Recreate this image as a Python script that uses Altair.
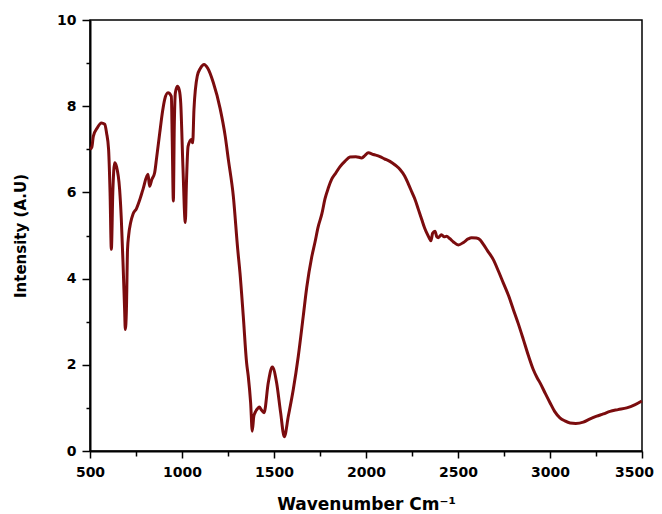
import altair as alt
import pandas as pd

wavenumber = [
    500, 510, 518, 540, 562, 580, 590, 601, 609, 616, 624, 634, 644, 661, 670, 680, 688, 692, 698, 704, 710, 721, 734, 752, 772, 788, 815, 824, 836, 851, 862, 879, 895, 906, 924, 942, 947, 953, 958, 964, 975, 985, 993, 1005, 1018, 1024, 1033, 1051, 1058, 1065, 1083, 1100, 1120, 1140, 1170, 1207, 1235, 1252, 1279, 1303, 1315, 1333, 1351, 1360, 1373, 1382, 1390, 1397, 1410, 1420, 1432, 1446, 1469, 1491, 1514, 1536, 1556, 1578, 1605, 1632, 1659, 1678, 1705, 1723, 1740, 1760, 1777, 1795, 1813, 1836, 1859, 1885, 1913, 1945, 1977, 1995, 2012, 2040, 2076, 2100, 2130, 2160, 2185, 2210, 2230, 2250, 2266, 2285, 2303, 2318, 2330, 2343, 2353, 2362, 2375, 2385, 2393, 2410, 2425, 2438, 2455, 2475, 2502, 2530, 2555, 2574, 2600, 2620, 2637, 2660, 2692, 2720, 2746, 2775, 2801, 2828, 2855, 2882, 2909, 2930, 2946, 2975, 3000, 3025, 3054, 3080, 3109, 3140, 3181, 3215, 3254, 3290, 3326, 3370, 3417, 3460, 3499,
]
intensity = [
    7.0, 7.05, 7.3, 7.5, 7.61, 7.58, 7.38, 7.0, 6.0, 4.68, 6.0, 6.69, 6.6, 6.07, 5.4, 4.3, 3.3, 2.82, 3.3, 4.68, 5.0, 5.3, 5.5, 5.62, 5.85, 6.07, 6.42, 6.14, 6.3, 6.45, 6.8, 7.38, 7.9, 8.16, 8.31, 8.23, 7.2, 5.8, 7.5, 8.31, 8.46, 8.38, 8.08, 6.6, 5.3, 6.2, 7.07, 7.23, 7.15, 7.92, 8.7, 8.88, 8.97, 8.88, 8.55, 7.95, 7.3, 6.76, 5.91, 4.67, 4.14, 3.13, 2.05, 1.74, 1.12, 0.46, 0.8, 0.89, 0.98, 1.02, 0.95, 0.89, 1.59, 1.95, 1.59, 0.89, 0.33, 0.81, 1.43, 2.2, 3.13, 3.8, 4.5, 4.85, 5.2, 5.5, 5.85, 6.1, 6.3, 6.45, 6.6, 6.72, 6.82, 6.83, 6.8, 6.86, 6.92, 6.88, 6.83, 6.78, 6.72, 6.63, 6.53, 6.38, 6.2, 6.0, 5.84, 5.6, 5.37, 5.18, 5.06, 4.95, 4.88, 5.05, 5.1, 4.97, 4.95, 5.02, 4.97, 4.98, 4.93, 4.85, 4.78, 4.84, 4.92, 4.95, 4.94, 4.9, 4.8, 4.65, 4.44, 4.17, 3.9, 3.6, 3.28, 2.95, 2.59, 2.22, 1.89, 1.7, 1.58, 1.33, 1.12, 0.92, 0.77, 0.7, 0.65, 0.64, 0.67, 0.74, 0.81, 0.86, 0.92, 0.96, 1.0, 1.07, 1.16,
]

x_ticks = list(range(500, 3501, 250))
y_ticks = list(range(0, 11))

df = pd.DataFrame({"w": wavenumber, "i": intensity})

FONT = "DejaVu Sans"

chart = (
    alt.Chart(df)
    .mark_line(color="#7b0c0e", strokeWidth=3, interpolate="monotone")
    .encode(
        x=alt.X(
            "w:Q",
            scale=alt.Scale(domain=[500, 3500], nice=False, zero=False),
            axis=alt.Axis(
                title="Wavenumber Cm\u207b\u00b9",
                values=x_ticks,
                format="d",
                labelExpr="datum.value % 500 === 0 ? datum.label : ''",
                labelFlush=False,
                labelOverlap=False,
                labelOffset={"condition": {"test": "datum.value === 3500", "value": -8}, "value": 0},
                tickSize={"condition": {"test": "datum.value % 500 === 0", "value": 7}, "value": 5},
                grid=False,
                domainColor="black",
                domainWidth=2,
                tickColor="black",
                tickWidth=1.5,
                labelFont=FONT,
                labelFontWeight="bold",
                labelFontSize=14,
                labelColor="black",
                labelPadding=7,
                titleFont=FONT,
                titleFontWeight="bold",
                titleFontSize=17,
                titleColor="black",
                titlePadding=17,
            ),
        ),
        y=alt.Y(
            "i:Q",
            scale=alt.Scale(domain=[0, 10], nice=False),
            axis=alt.Axis(
                title="Intensity (A.U)",
                values=y_ticks,
                format="d",
                labelExpr="datum.value % 2 === 0 ? datum.label : ''",
                labelFlush=False,
                labelOverlap=False,
                tickSize={"condition": {"test": "datum.value % 2 === 0", "value": 8}, "value": 4},
                grid=False,
                domainColor="black",
                domainWidth=2,
                tickColor="black",
                tickWidth=1.5,
                labelFont=FONT,
                labelFontWeight="bold",
                labelFontSize=14,
                labelColor="black",
                labelPadding=6,
                titleFont=FONT,
                titleFontWeight="bold",
                titleFontSize=15,
                titleColor="black",
                titlePadding=28,
            ),
        ),
    )
    .properties(
        width=552,
        height=431,
        autosize=alt.AutoSizeParams(type="none"),
        padding={"left": 82, "top": 12, "right": 12, "bottom": 66},
        background="white",
    )
    .configure_view(stroke="black", strokeWidth=1.5)
)

chart.save("out.html", embed_options={"renderer": "svg", "actions": False})
